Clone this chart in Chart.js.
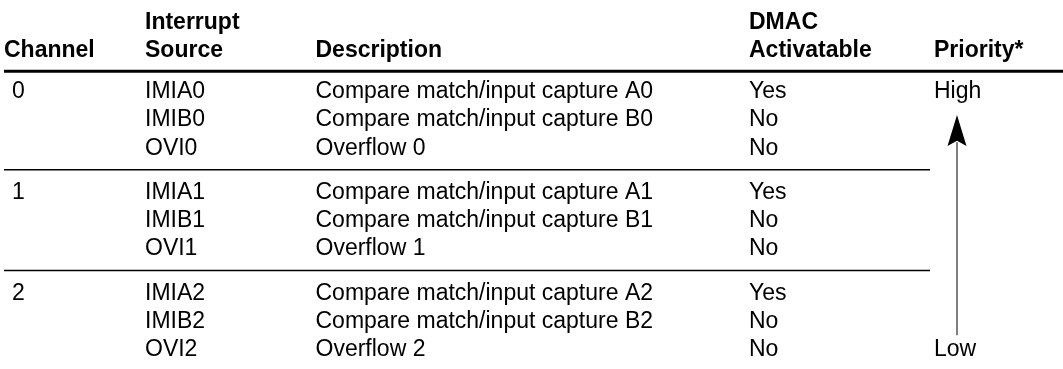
<!DOCTYPE html>
<html><head><meta charset="utf-8">
<script src="https://cdn.jsdelivr.net/npm/chart.js@4/dist/chart.umd.min.js"></script>
<style>html,body{margin:0;padding:0;background:#fff}#wrap{width:1063px;height:369px;position:relative}</style>
</head><body><div id="wrap"><canvas id="c"></canvas></div>
<script>
// ---- table content ----
const headersTop = ["", "Interrupt", "", "DMAC", ""];
const headersBottom = ["Channel", "Source", "Description", "Activatable", "Priority*"];
const channels = ["0", "1", "2"];
const sources = ["IMIA0", "IMIB0", "OVI0", "IMIA1", "IMIB1", "OVI1", "IMIA2", "IMIB2", "OVI2"];
const descriptions = [
  "Compare match/input capture A0", "Compare match/input capture B0", "Overflow 0",
  "Compare match/input capture A1", "Compare match/input capture B1", "Overflow 1",
  "Compare match/input capture A2", "Compare match/input capture B2", "Overflow 2"
];
const dmacActivatable = ["Yes", "No", "No", "Yes", "No", "No", "Yes", "No", "No"];
const priorityLabels = ["High", "Low"];

// ---- layout (not data) ----
const ROWS_PER_GROUP = 3;
const GROUP_STEP = 3.57;                 // row units between group starts
const COL_X = [4, 145, 315.5, 749, 934]; // column left edges (x scale units)
const CHANNEL_X = 12;
const ARROW_X = 957;
const FONT = '"Liberation Sans", Arial, Helvetica, sans-serif';
const FS = 23;
const rowVal = i => Math.floor(i / ROWS_PER_GROUP) * GROUP_STEP + (i % ROWS_PER_GROUP);
const HDR_TOP = -2.45, HDR_BOT = -1.45, RULE_Y = -0.66;
const SEP_Y = [1, 2].map(g => (g - 1) * GROUP_STEP + 2.83);
const lastRow = rowVal(sources.length - 1);

const tablePlugin = {
  id: 'tableText',
  afterDatasetsDraw(chart) {
    const {ctx, scales: {x, y}} = chart;
    ctx.save();
    ctx.fillStyle = '#000';
    ctx.textBaseline = 'alphabetic';
    ctx.textAlign = 'left';
    const put = (txt, xv, yv) => {
      ctx.fillText(txt, x.getPixelForValue(xv), y.getPixelForValue(yv) + 0.358 * FS);
    };
    ctx.font = 'bold ' + FS + 'px ' + FONT;
    headersTop.forEach((h, c) => { if (h) put(h, COL_X[c], HDR_TOP); });
    headersBottom.forEach((h, c) => put(h, COL_X[c], HDR_BOT));
    ctx.font = FS + 'px ' + FONT;
    channels.forEach((ch, g) => put(ch, CHANNEL_X, rowVal(g * ROWS_PER_GROUP)));
    sources.forEach((s, i) => put(s, COL_X[1], rowVal(i)));
    descriptions.forEach((s, i) => put(s, COL_X[2], rowVal(i)));
    dmacActivatable.forEach((s, i) => put(s, COL_X[3], rowVal(i)));
    put(priorityLabels[0], COL_X[4], rowVal(0));
    put(priorityLabels[1], COL_X[4], lastRow);
    // arrow head
    const ax = x.getPixelForValue(ARROW_X);
    const tip = y.getPixelForValue(0.887);
    const barb = y.getPixelForValue(1.986);
    const notch = y.getPixelForValue(1.80);
    const hw = x.getPixelForValue(ARROW_X + 9.5) - ax;
    ctx.beginPath();
    ctx.moveTo(ax, tip);
    ctx.lineTo(ax + hw, barb);
    ctx.lineTo(ax, notch);
    ctx.lineTo(ax - hw, barb);
    ctx.closePath();
    ctx.fill();
    ctx.restore();
  }
};

const lineDs = (pts, w, color) => ({
  data: pts, showLine: true, borderColor: color, borderWidth: w,
  pointRadius: 0, pointHoverRadius: 0, fill: false, tension: 0, clip: false
});

new Chart(document.getElementById('c'), {
  type: 'scatter',
  data: {
    datasets: [
      lineDs([{x: 4, y: RULE_Y}, {x: 1063, y: RULE_Y}], 3, '#000'),
      lineDs([{x: 4, y: SEP_Y[0]}, {x: 930, y: SEP_Y[0]}], 1.4, '#000'),
      lineDs([{x: 4, y: SEP_Y[1]}, {x: 930, y: SEP_Y[1]}], 1.4, '#000'),
      lineDs([{x: ARROW_X, y: lastRow - 0.44}, {x: ARROW_X, y: 1.85}], 1.5, '#555')
    ]
  },
  options: {
    responsive: true, maintainAspectRatio: false, animation: false,
    devicePixelRatio: 1,
    layout: {padding: 0},
    plugins: {legend: {display: false}, tooltip: {enabled: false}, title: {display: false}},
    events: [],
    scales: {
      x: {type: 'linear', min: 0, max: 1063, display: false},
      y: {type: 'linear', min: -3.191, max: 9.894, reverse: true, display: false}
    }
  },
  plugins: [tablePlugin]
});
</script></body></html>
